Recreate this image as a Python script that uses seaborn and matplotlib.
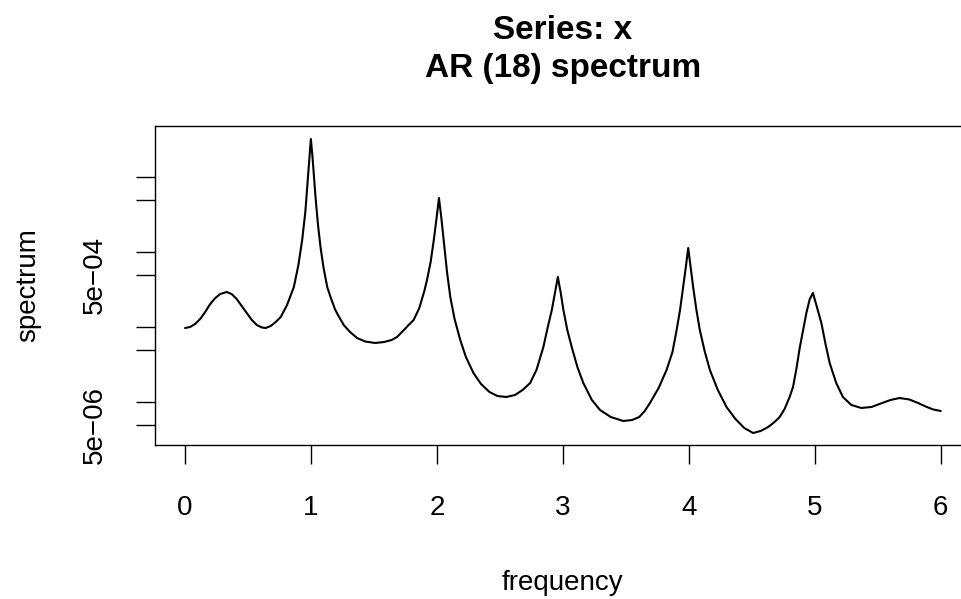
import matplotlib
matplotlib.use("Agg")
import matplotlib.pyplot as plt
import seaborn as sns
import pandas as pd

# ---- data (frequency, AR spectrum value) ----
freq = [0.00, 0.04, 0.08, 0.12, 0.16, 0.20, 0.24, 0.28, 0.33, 0.37, 0.41, 0.45,
        0.49, 0.53, 0.57, 0.61, 0.64, 0.68,
        0.72, 0.76, 0.81, 0.864, 0.90, 0.93, 0.955, 0.97, 0.988, 0.999, 1.012,
        1.036, 1.055, 1.0755, 1.10, 1.129, 1.155, 1.19, 1.21, 1.26, 1.31, 1.366,
        1.43, 1.51, 1.58, 1.64, 1.683, 1.73, 1.775, 1.815, 1.86, 1.90, 1.921,
        1.95, 1.975, 1.997, 2.016, 2.035, 2.053, 2.08, 2.106, 2.14, 2.185, 2.23,
        2.29, 2.35, 2.417, 2.48, 2.55, 2.62, 2.68, 2.74, 2.79, 2.845, 2.88, 2.912,
        2.937, 2.96, 2.983, 3.004, 3.035, 3.07, 3.115, 3.162, 3.23, 3.295, 3.38,
        3.479, 3.55, 3.606, 3.65, 3.691, 3.76, 3.823, 3.87, 3.903, 3.93, 3.955,
        3.975, 3.995, 4.015, 4.034, 4.06, 4.087, 4.125, 4.167, 4.23, 4.299, 4.37,
        4.44, 4.51, 4.57, 4.63, 4.68, 4.721, 4.76, 4.80, 4.827, 4.855, 4.88, 4.91,
        4.933, 4.96, 4.985, 5.01, 5.052, 5.085, 5.118, 5.17, 5.223, 5.29, 5.369,
        5.45, 5.514, 5.60, 5.673, 5.75, 5.82, 5.88, 5.94, 6.00]
spec = [9.82e-5, 1.013e-4, 1.111e-4, 1.295e-4, 1.605e-4, 2.053e-4, 2.468e-4, 2.790e-4,
        2.967e-4, 2.790e-4, 2.393e-4, 1.931e-4, 1.557e-4, 1.256e-4, 1.077e-4, 9.98e-5,
        9.82e-5, 1.045e-4,
        1.181e-4, 1.377e-4, 1.991e-4, 3.459e-4, 6.79e-4, 1.464e-3, 3.459e-3, 7.45e-3,
        1.872e-2, 3.253e-2, 1.872e-2, 5.48e-3, 2.393e-3, 1.181e-3, 6.20e-4, 3.459e-4,
        2.544e-4, 1.761e-4, 1.510e-4, 1.077e-4, 8.69e-5, 7.23e-5, 6.49e-5, 6.20e-5,
        6.39e-5, 6.79e-5, 7.45e-5, 8.96e-5, 1.077e-4, 1.256e-4, 1.815e-4, 3.059e-4,
        4.289e-4, 7.45e-4, 1.464e-3, 2.877e-3, 5.32e-3, 2.877e-3, 1.464e-3, 5.48e-4,
        2.544e-4, 1.295e-4, 6.79e-5, 4.03e-5, 2.468e-5, 1.761e-5, 1.377e-5, 1.218e-5,
        1.181e-5, 1.256e-5, 1.464e-5, 1.815e-5, 2.706e-5, 5.48e-5, 1.013e-4, 1.707e-4,
        2.877e-4, 4.702e-4, 2.877e-4, 1.707e-4, 9.24e-5, 5.48e-5, 2.967e-5, 1.815e-5,
        1.077e-5, 7.92e-6, 6.39e-6, 5.65e-6, 5.83e-6, 6.39e-6, 7.69e-6, 9.82e-6,
        1.557e-5, 2.706e-5, 4.702e-5, 9.24e-5, 1.707e-4, 3.459e-4, 6.20e-4, 1.145e-3,
        6.20e-4, 3.459e-4, 1.707e-4, 9.24e-5, 4.85e-5, 2.706e-5, 1.464e-5, 8.69e-6,
        6.01e-6, 4.56e-6, 3.91e-6, 4.16e-6, 4.70e-6, 5.48e-6, 6.39e-6, 8.17e-6,
        1.181e-5, 1.605e-5, 2.877e-5, 5.32e-5, 9.82e-5, 1.557e-4, 2.393e-4, 2.877e-4,
        2.053e-4, 1.145e-4, 6.01e-5, 3.354e-5, 1.815e-5, 1.181e-5, 9.24e-6, 8.43e-6,
        8.69e-6, 9.53e-6, 1.077e-5, 1.145e-5, 1.094e-5, 9.82e-6, 8.82e-6, 8.05e-6,
        7.69e-6]

x_ticks = [0, 1, 2, 3, 4, 5, 6]
x_tick_labels = ["0", "1", "2", "3", "4", "5", "6"]
y_ticks = [5e-6, 1e-5, 5e-5, 1e-4, 5e-4, 1e-3, 5e-3, 1e-2]
y_tick_labels = ["5e\u221206", "", "", "", "5e\u221204", "", "", ""]

title_lines = ["Series: x", "AR (18) spectrum"]
x_label = "frequency"
y_label = "spectrum"

df = pd.DataFrame({"frequency": freq, "spectrum": spec})

sns.set_theme(style="white")
plt.rcParams["font.family"] = ["Liberation Sans", "DejaVu Sans"]

W, H = 961, 599
fig = plt.figure(figsize=(W / 100, H / 100), dpi=100)

# axes box in pixel coords (right edge lies beyond the figure, as in reference)
left_px, right_px, top_px, bot_px = 154.8, 971.0, 126.0, 445.0
ax = fig.add_axes([left_px / W, 1 - bot_px / H,
                   (right_px - left_px) / W, (bot_px - top_px) / H])

sns.lineplot(data=df, x="frequency", y="spectrum", ax=ax, color="black",
             linewidth=1.5, estimator=None, sort=False)

ax.set_yscale("log")
ax.set_xlim(-0.24, 6.24)
ax.set_ylim(2.705e-6, 4.85e-2)

ax.set_xticks(x_ticks)
ax.set_xticklabels(x_tick_labels)
ax.set_yticks(y_ticks)
ax.set_yticklabels(y_tick_labels, rotation=90, va="center")
ax.yaxis.set_minor_locator(matplotlib.ticker.NullLocator())

ax.tick_params(axis="both", which="major", direction="out", length=13.7,
               width=1.0, color="black", labelsize=20, labelcolor="black")
ax.tick_params(axis="x", pad=22)
ax.tick_params(axis="y", pad=20)
ax.tick_params(left=True, bottom=True)

for s in ax.spines.values():
    s.set_visible(True)
    s.set_color("black")
    s.set_linewidth(1.0)

ax.grid(False)

ax.set_xlabel(x_label, fontsize=20, color="black")
ax.set_ylabel(y_label, fontsize=20, color="black")
ax.xaxis.set_label_coords(0.5, (bot_px - 583) / (bot_px - top_px))
ax.xaxis.label.set_va("center")
ax.yaxis.set_label_coords((28 - left_px) / (right_px - left_px), 0.5)
ax.yaxis.label.set_va("center")
ax.yaxis.label.set_ha("center")

cx = (left_px + right_px) / 2 / W
fig.text(cx, 1 - 39 / H, title_lines[0], ha="center", va="baseline",
         fontsize=24, fontweight="bold", color="black")
fig.text(cx, 1 - 77 / H, title_lines[1], ha="center", va="baseline",
         fontsize=24, fontweight="bold", color="black")

fig.savefig("out.png", dpi=100, facecolor="white")
